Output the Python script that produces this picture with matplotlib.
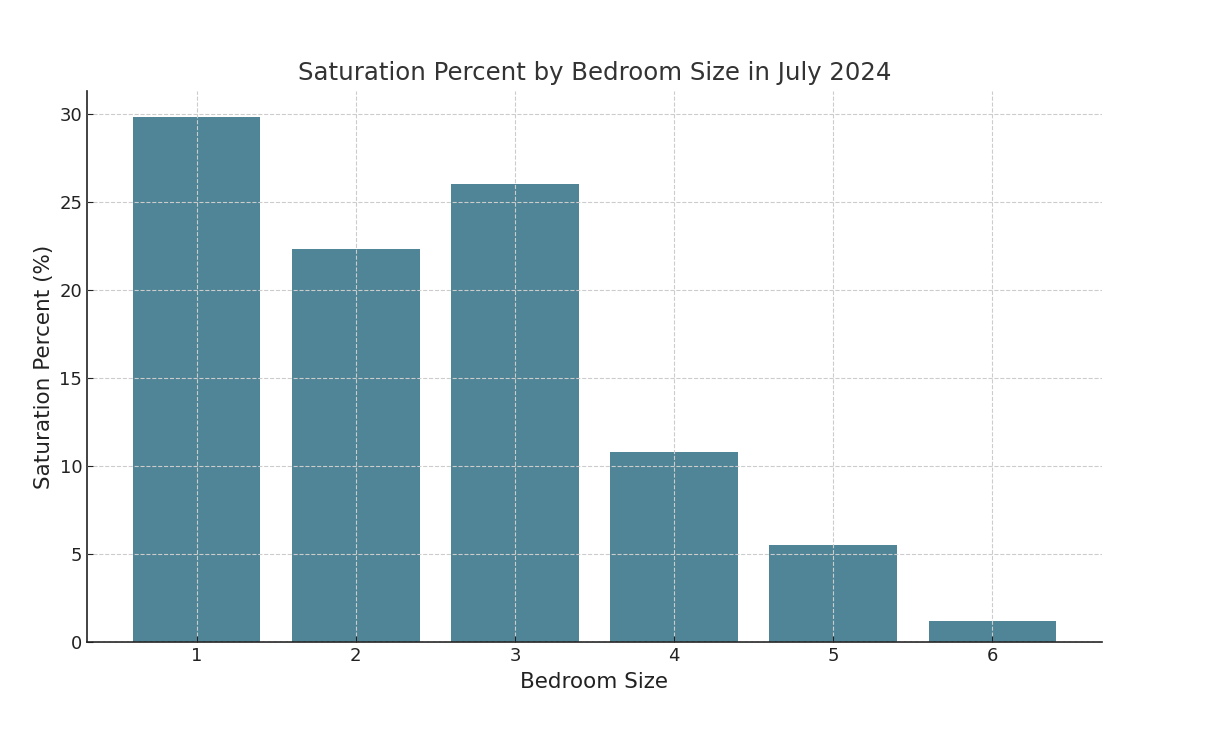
import matplotlib.pyplot as plt

bedrooms = ['1', '2', '3', '4', '5', '6']
saturation = [29.8, 22.3, 26.0, 10.8, 5.5, 1.2]

fig = plt.figure(figsize=(12.24, 7.42), dpi=100)
ax = fig.add_axes([0.0711, 0.1348, 0.8292, 0.7426])

ax.bar([int(b) for b in bedrooms], saturation, width=0.8, color='#4f8596', zorder=1)
ax.set_xticks([int(b) for b in bedrooms])
ax.set_xticklabels(bedrooms)

ax.grid(True, linestyle='--', color='#cccccc', linewidth=0.8, zorder=2)
ax.set_axisbelow(False)
for s in ['top', 'right']:
    ax.spines[s].set_visible(False)
for s in ['left', 'bottom']:
    ax.spines[s].set_linewidth(1.2)
    ax.spines[s].set_color('#222222')

ax.tick_params(axis='both', labelsize=13, direction='in', length=4, colors='#222222')
ax.set_title('Saturation Percent by Bedroom Size in July 2024', fontsize=17.6, color='#333333', pad=8)
ax.set_xlabel('Bedroom Size', fontsize=15.5, color='#222222', labelpad=5)
ax.set_ylabel('Saturation Percent (%)', fontsize=15.5, color='#222222')

fig.savefig('out.png', dpi=100)
